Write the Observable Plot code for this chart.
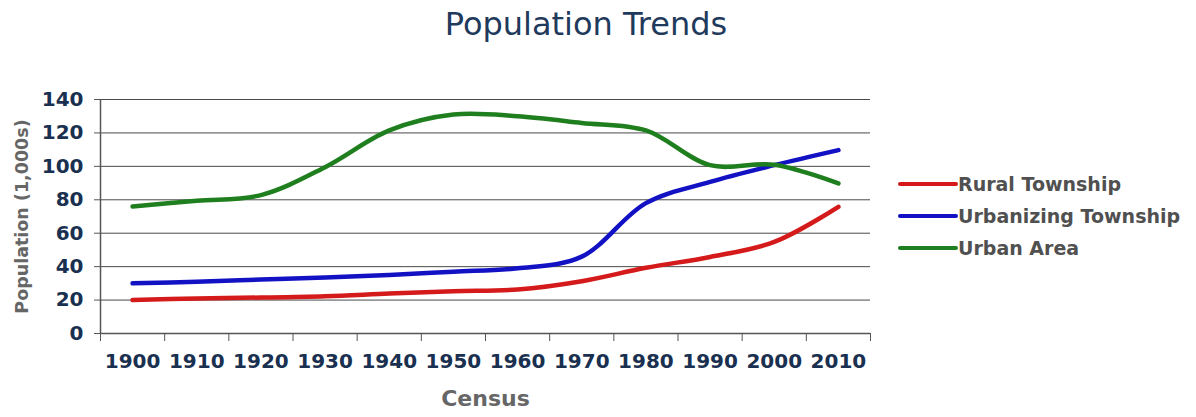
<!DOCTYPE html>
<html>
<head>
<meta charset="utf-8">
<script src="https://cdn.jsdelivr.net/npm/d3@7"></script>
<script src="https://cdn.jsdelivr.net/npm/@observablehq/plot@0.6"></script>
<style>
  html, body { margin: 0; padding: 0; background: #fff; }
  #wrap { position: relative; width: 1196px; height: 417px; overflow: hidden; }
  #title { position: absolute; left: -12px; top: 0; width: 1196px; text-align: center;
           font-family: "DejaVu Sans", sans-serif; font-size: 32px; color: #1f3a5c;
           line-height: 1; padding-top: 8px; box-sizing: border-box; height: 60px; }
  #chart { position: absolute; left: 0; top: 60px; }
  #legend { position: absolute; left: 898px; top: 0; font-family: "DejaVu Sans", sans-serif;
            font-weight: bold; font-size: 19px; color: #505050; }
  .row { position: absolute; left: 0; white-space: nowrap; display: flex; align-items: center; height: 24px; }
  .sw { width: 60px; height: 4px; border-radius: 2px; margin-right: 0px; }
</style>
</head>
<body>
<div id="wrap">
  <div id="title">Population Trends</div>
  <div id="chart"></div>
  <div id="legend"></div>
</div>
<script>
const years = [1900, 1910, 1920, 1930, 1940, 1950, 1960, 1970, 1980, 1990, 2000, 2010];
const boundaries = [1895, 1905, 1915, 1925, 1935, 1945, 1955, 1965, 1975, 1985, 1995, 2005, 2015];
const yTicks = [0, 20, 40, 60, 80, 100, 120, 140];
const seriesNames = ["Rural Township", "Urbanizing Township", "Urban Area"];
const seriesColors = ["#d41a1a", "#1212c4", "#1f7f1f"];
const rural = [20, 21, 21.5, 22.3, 23.9, 25.3, 26.3, 31.3, 39.3, 45.8, 54.8, 75.8];
const urbanizing = [30, 31, 32.3, 33.5, 35, 37, 39, 46, 78, 90.7, 100.7, 109.7];
const urban = [76, 79.4, 82.8, 99.5, 121.5, 131, 130, 126, 121.5, 100.7, 101, 89.8];

const table = [];
[rural, urbanizing, urban].forEach((vals, i) => {
  vals.forEach((v, j) => table.push({series: seriesNames[i], year: years[j], value: v}));
});

const chart = Plot.plot({
  width: 1196,
  height: 357,
  marginTop: 39,
  marginBottom: 84,
  marginLeft: 100,
  marginRight: 326,
  style: {fontFamily: "DejaVu Sans", fontSize: "20px", fontWeight: "bold", color: "#1a3050", background: "transparent"},
  x: {type: "linear", domain: [1895, 2015]},
  y: {domain: [0, 140]},
  color: {domain: seriesNames, range: seriesColors},
  marks: [
    Plot.ruleY(yTicks.filter(d => d > 0), {x1: 1895, x2: 2015, stroke: "#4a4a4a", strokeWidth: 1}),
    Plot.ruleY([0], {x1: 1895, x2: 2015, stroke: "#555", strokeWidth: 1.5}),
    Plot.ruleX([1895], {y1: 0, y2: 140, stroke: "#555", strokeWidth: 1.5}),
    Plot.axisY({ticks: yTicks, tickSize: 6, tickPadding: 11, stroke: "#555", label: null}),
    Plot.axisX({ticks: years, tickSize: 0, tickPadding: 20, tickFormat: d => String(d), label: null}),
    Plot.axisX({ticks: boundaries, tickSize: 8, tickFormat: () => "", stroke: "#555", label: null}),
    Plot.text(["Population (1,000s)"], {frameAnchor: "left", dx: -78, rotate: -90, textAnchor: "middle", fill: "#666", fontSize: 17.5, fontWeight: "bold"}),
    Plot.text(["Census"], {frameAnchor: "bottom", dy: 72, textAnchor: "middle", fill: "#666", fontSize: 22, fontWeight: "bold"}),
    Plot.line(table, {x: "year", y: "value", z: "series", stroke: "series", curve: "catmull-rom", strokeWidth: 4.5, strokeLinecap: "round", strokeLinejoin: "round"})
  ]
});
document.getElementById("chart").appendChild(chart);

const legend = document.getElementById("legend");
const rowsY = [184, 216, 248];
seriesNames.forEach((name, i) => {
  const row = document.createElement("div");
  row.className = "row";
  row.style.top = (rowsY[i] - 12) + "px";
  const sw = document.createElement("div");
  sw.className = "sw";
  sw.style.background = seriesColors[i];
  const label = document.createElement("span");
  label.textContent = name;
  row.appendChild(sw);
  row.appendChild(label);
  legend.appendChild(row);
});
</script>
</body>
</html>
